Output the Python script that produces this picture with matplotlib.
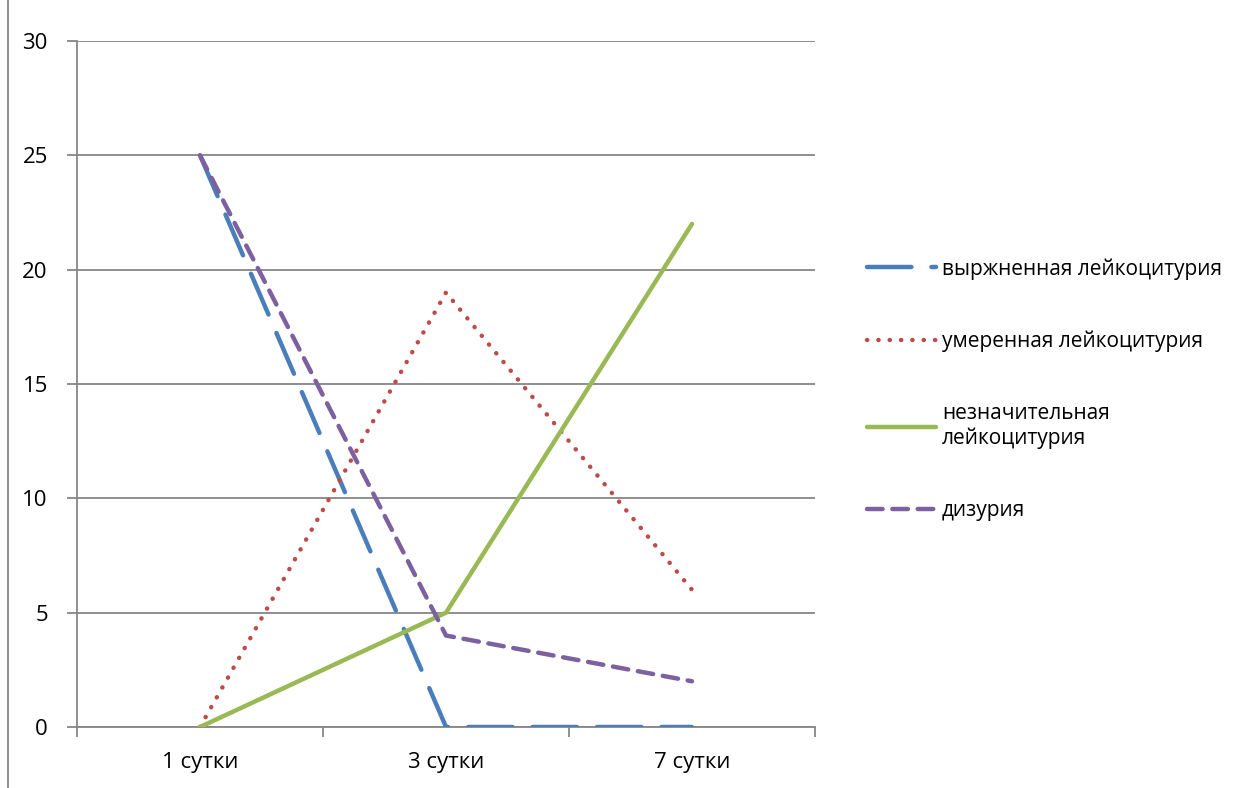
import matplotlib.pyplot as plt
import matplotlib.lines as mlines

plt.rcParams['font.family'] = ['Open Sans', 'DejaVu Sans']

# дані з графіка
categories = ["1 сутки", "3 сутки", "7 сутки"]
vyrazh = [25, 0, 0]      # выржненная лейкоцитурия
umeren = [0, 19, 6]      # умеренная лейкоцитурия
neznach = [0, 5, 22]     # незначительная лейкоцитурия
dizur = [25, 4, 2]       # дизурия
labels = ["выржненная лейкоцитурия", "умеренная лейкоцитурия",
          "незначительная\nлейкоцитурия", "дизурия"]
y_ticks = [0, 5, 10, 15, 20, 25, 30]

fig = plt.figure(figsize=(12.46, 7.88), dpi=100)
ax = fig.add_axes([77 / 1246, 1 - 727 / 788, (815 - 77) / 1246, (727 - 41) / 788])

x = list(range(len(categories)))
lw = 3.2
l1, = ax.plot(x, vyrazh, color="#4a7ebb", lw=lw, dashes=(10, 4.5),
              dash_capstyle="round", solid_capstyle="round", zorder=3)
l2, = ax.plot(x, umeren, color="#be4b48", lw=lw, dashes=(0.05, 2.5),
              dash_capstyle="round", zorder=3)
l3, = ax.plot(x, neznach, color="#98b954", lw=lw, solid_capstyle="round",
              solid_joinstyle="miter", zorder=3)
l4, = ax.plot(x, dizur, color="#7d60a0", lw=lw, dashes=(3.5, 2.2),
              dash_capstyle="round", zorder=4)

ax.set_xlim(-0.5, 2.5)
ax.set_ylim(0, 30)
ax.set_yticks(y_ticks)
ax.yaxis.grid(True, color="#868686", lw=1.3)
ax.set_axisbelow(True)

# підписи категорій по центру, риски між категоріями
ax.set_xticks([-0.5, 0.5, 1.5, 2.5])
ax.set_xticklabels([])
ax.set_xticks(x, minor=True)
ax.set_xticklabels(categories, minor=True)
ax.tick_params(axis="x", which="minor", length=0, pad=18, labelsize=16)
ax.tick_params(axis="x", which="major", length=7, width=1.3, color="#868686")
ax.tick_params(axis="y", length=7, width=1.3, color="#868686", pad=14, labelsize=16)

for s in ["top", "right"]:
    ax.spines[s].set_visible(False)
ax.spines["left"].set_color("#868686")
ax.spines["bottom"].set_color("#868686")
ax.spines["left"].set_linewidth(1.3)
ax.spines["bottom"].set_linewidth(1.3)

ax.legend([l1, l2, l3, l4], labels, loc="center left",
          bbox_to_anchor=(1.045, 0.492), frameon=False, fontsize=15,
          handlelength=3.3, handletextpad=0.3, labelspacing=2.45)

# рамка області діаграми (ліва межа)
fig.add_artist(mlines.Line2D([8 / 1246, 8 / 1246], [0, 1], color="#868686", lw=1.3))

fig.savefig("out.png", dpi=100)
